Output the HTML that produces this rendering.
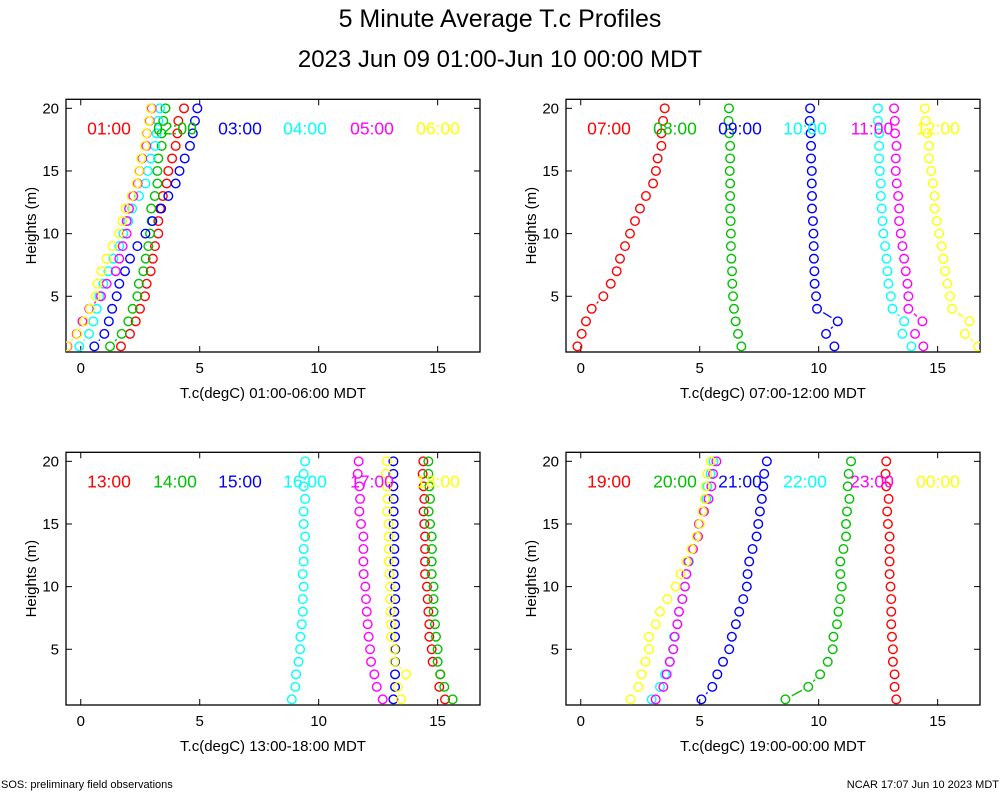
<!DOCTYPE html>
<html><head><meta charset="utf-8"><style>
body{margin:0;background:#fff}
svg{display:block;font-family:"Liberation Sans",sans-serif}
</style></head><body>
<svg id="chart" width="1000" height="800" viewBox="0 0 1000 800" xmlns="http://www.w3.org/2000/svg">
<text x="500" y="27" font-size="25" text-anchor="middle">5 Minute Average T.c Profiles</text>
<text x="500" y="67" font-size="24" text-anchor="middle">2023 Jun 09 01:00-Jun 10 00:00 MDT</text>
<text x="1" y="788" font-size="11">SOS: preliminary field observations</text>
<text x="999" y="788" font-size="11" text-anchor="end">NCAR 17:07 Jun 10 2023 MDT</text>
</svg>
<script>
const heights=[1,2,3,4,5,6,7,8,9,10,11,12,13,14,15,16,17,18,19,20];
const xTicks=[0,5,10,15];
const yTicks=[5,10,15,20];
const colors=["#ff0000","#00c000","#0000ff","#00ffff","#ff00ff","#ffff00"];
const p1Labels=["01:00","02:00","03:00","04:00","05:00","06:00"];
const p2Labels=["07:00","08:00","09:00","10:00","11:00","12:00"];
const p3Labels=["13:00","14:00","15:00","16:00","17:00","18:00"];
const p4Labels=["19:00","20:00","21:00","22:00","23:00","00:00"];
const p1Red=[1.69,2.07,2.31,2.49,2.70,2.77,2.94,3.03,3.12,3.26,3.26,3.33,3.45,3.61,3.68,3.84,3.99,4.06,4.10,4.34];
const p1Green=[1.23,1.72,2.00,2.18,2.38,2.44,2.63,2.73,2.84,2.91,2.98,2.96,3.11,3.22,3.22,3.26,3.40,3.40,3.47,3.56];
const p1Blue=[0.57,0.99,1.18,1.32,1.51,1.62,1.86,2.07,2.38,2.72,3.01,3.38,3.68,3.99,4.15,4.37,4.59,4.71,4.80,4.90];
const p1Cyan=[-0.06,0.35,0.53,0.67,0.78,0.95,1.16,1.37,1.62,1.79,2.00,2.16,2.45,2.72,2.82,2.94,3.12,3.19,3.26,3.33];
const p1Magenta=[-0.56,-0.17,0.07,0.36,0.85,1.09,1.47,1.62,1.76,1.93,1.93,2.03,2.21,2.39,2.46,2.58,2.75,2.77,2.89,2.98];
const p1Yellow=[-0.59,-0.14,0.14,0.39,0.63,0.70,0.87,1.08,1.33,1.61,1.75,1.89,2.14,2.35,2.44,2.54,2.70,2.75,2.86,2.94];
const p2Red=[-0.14,0.04,0.22,0.46,0.95,1.26,1.51,1.65,1.86,2.07,2.28,2.49,2.74,3.04,3.16,3.23,3.39,3.39,3.46,3.53];
const p2Green=[6.75,6.61,6.51,6.44,6.40,6.37,6.36,6.33,6.31,6.31,6.30,6.28,6.28,6.28,6.26,6.28,6.28,6.24,6.21,6.23];
const p2Blue=[10.66,10.31,10.80,9.93,9.89,9.83,9.82,9.80,9.79,9.78,9.76,9.72,9.72,9.71,9.71,9.68,9.68,9.66,9.62,9.64];
const p2Cyan=[13.9,13.52,13.59,13.1,13.03,12.93,12.89,12.85,12.79,12.72,12.68,12.65,12.61,12.61,12.57,12.54,12.54,12.54,12.49,12.49];
const p2Magenta=[14.4,14.05,14.36,13.77,13.77,13.73,13.66,13.59,13.52,13.45,13.38,13.38,13.34,13.28,13.24,13.24,13.27,13.21,13.2,13.17];
const p2Yellow=[16.7,16.15,16.34,15.61,15.52,15.41,15.31,15.24,15.17,15.06,14.96,14.87,14.87,14.8,14.73,14.64,14.64,14.57,14.5,14.46];
const p3Red=[15.31,15.07,15.11,14.79,14.75,14.65,14.65,14.61,14.58,14.55,14.47,14.47,14.47,14.47,14.44,14.41,14.44,14.41,14.37,14.4];
const p3Green=[15.63,15.28,15.11,15.0,15.0,14.93,14.89,14.83,14.83,14.83,14.75,14.75,14.76,14.75,14.68,14.62,14.68,14.65,14.61,14.61];
const p3Blue=[13.14,13.21,13.21,13.21,13.22,13.21,13.21,13.18,13.22,13.22,13.15,13.18,13.18,13.18,13.15,13.15,13.15,13.14,13.14,13.14];
const p3Cyan=[8.87,9.02,9.05,9.15,9.22,9.23,9.29,9.33,9.33,9.37,9.33,9.37,9.37,9.43,9.37,9.37,9.43,9.37,9.37,9.43];
const p3Magenta=[12.69,12.44,12.34,12.2,12.16,12.1,12.06,12.02,11.99,11.96,11.89,11.88,11.88,11.88,11.78,11.71,11.74,11.71,11.64,11.68];
const p3Yellow=[13.46,13.32,13.67,13.18,13.18,13.04,13.04,13.01,13.0,13.0,12.97,12.94,12.94,12.94,12.93,12.87,12.9,12.87,12.83,12.86];
const p4Red=[13.26,13.19,13.19,13.12,13.12,13.08,13.05,13.05,13.05,13.02,12.98,12.98,12.98,12.98,12.91,12.88,12.94,12.84,12.81,12.84];
const p4Green=[8.6,9.56,10.06,10.38,10.59,10.62,10.77,10.83,10.9,10.97,10.91,10.91,11.04,11.15,11.15,11.19,11.29,11.22,11.26,11.36];
const p4Blue=[5.07,5.53,5.74,5.98,6.24,6.35,6.52,6.66,6.83,6.98,7.01,7.08,7.22,7.39,7.46,7.53,7.61,7.67,7.71,7.82];
const p4Cyan=[2.98,3.33,3.54,3.75,3.88,3.92,4.06,4.13,4.27,4.38,4.44,4.55,4.69,4.93,4.97,5.14,5.28,5.32,5.46,5.58];
const p4Magenta=[3.15,3.47,3.61,3.74,3.89,3.95,4.06,4.13,4.27,4.38,4.44,4.52,4.72,4.93,4.97,5.18,5.37,5.49,5.56,5.70];
const p4Yellow=[2.09,2.42,2.56,2.72,2.87,2.87,3.15,3.33,3.64,3.99,4.2,4.44,4.66,4.87,5.01,5.11,5.22,5.25,5.32,5.46];

const NS="http://www.w3.org/2000/svg";
const svg=document.getElementById('chart');
function mk(tag,attrs,parent){const e=document.createElementNS(NS,tag);for(const k in attrs)e.setAttribute(k,attrs[k]);(parent||svg).appendChild(e);return e;}
const XMIN=-0.62,XMAX=16.78,PW=414;
const panels=[
 {left:66,top:99.3,bottom:352,labels:p1Labels,series:[p1Red,p1Green,p1Blue,p1Cyan,p1Magenta,p1Yellow],title:"T.c(degC) 01:00-06:00 MDT"},
 {left:566,top:99.3,bottom:352,labels:p2Labels,series:[p2Red,p2Green,p2Blue,p2Cyan,p2Magenta,p2Yellow],title:"T.c(degC) 07:00-12:00 MDT"},
 {left:66,top:452.3,bottom:705,labels:p3Labels,series:[p3Red,p3Green,p3Blue,p3Cyan,p3Magenta,p3Yellow],title:"T.c(degC) 13:00-18:00 MDT"},
 {left:566,top:452.3,bottom:705,labels:p4Labels,series:[p4Red,p4Green,p4Blue,p4Cyan,p4Magenta,p4Yellow],title:"T.c(degC) 19:00-00:00 MDT"}
];
const labelOffsets=[43,109,174,239,306,372];
panels.forEach((p,pi)=>{
 const g=mk('g',{});
 
 
 const YMAX=20.72;
 const xs=v=>p.left+(v-XMIN)/(XMAX-XMIN)*PW;
 const ys=h=>p.top+(YMAX-h)*12.53;
 const clipId='clip'+pi;
 const cp=mk('clipPath',{id:clipId},g);
 mk('rect',{x:p.left,y:p.top,width:PW,height:p.bottom-p.top},cp);
 xTicks.forEach(t=>{
  const x=xs(t);
  const l1=mk('line',{x1:x,y1:p.bottom,x2:x,y2:p.bottom-6,stroke:'#000'},g);
  
  
  mk('line',{x1:x,y1:p.top,x2:x,y2:p.top+6,stroke:'#000'},g);
  const tl=mk('text',{x:x,y:p.bottom+21,'font-size':15,'text-anchor':'middle'},g);
  tl.textContent=t;
  
  
 });
 yTicks.forEach(t=>{
  const y=ys(t);
  const l1=mk('line',{x1:p.left,y1:y,x2:p.left+6,y2:y,stroke:'#000'},g);
  
  
  mk('line',{x1:p.left+PW,y1:y,x2:p.left+PW-6,y2:y,stroke:'#000'},g);
  const tl=mk('text',{x:p.left-7,y:y+5,'font-size':15,'text-anchor':'end'},g);
  tl.textContent=t;
  
  
 });
 const fr=mk('rect',{x:p.left,y:p.top,width:PW,height:p.bottom-p.top,fill:'none',stroke:'#000','stroke-width':1.3},g);
 
 
 const xt=mk('text',{x:p.left+PW/2,y:p.bottom+46,'font-size':15,'text-anchor':'middle'},g);
 xt.textContent=p.title;
 
 
 const cy=(p.top+p.bottom)/2;
 const yt=mk('text',{x:p.left-30,y:cy,'font-size':15,'text-anchor':'middle',transform:`rotate(-90 ${p.left-30} ${cy})`},g);
 yt.textContent='Heights (m)';
 
 
 const dg=mk('g',{'clip-path':`url(#${clipId})`},g);
 p.series.forEach((vals,si)=>{
  const sg=mk('g',{},dg);
  
  
  const R=4.3,gap=3;
  for(let i=0;i<vals.length-1;i++){
   const x1=xs(vals[i]),y1=ys(heights[i]),x2=xs(vals[i+1]),y2=ys(heights[i+1]);
   const d=Math.hypot(x2-x1,y2-y1), c=R+gap;
   if(d>2*c+1){
    const ux=(x2-x1)/d,uy=(y2-y1)/d;
    const seg=mk('line',{x1:x1+ux*c,y1:y1+uy*c,x2:x2-ux*c,y2:y2-uy*c,stroke:colors[si],'stroke-width':1.3},sg);
    
    
   }
  }
  vals.forEach((v,i)=>{
   const c=mk('circle',{cx:xs(v),cy:ys(heights[i]),r:R,fill:'none',stroke:colors[si],'stroke-width':1.4},sg);
   
   
  });
 });
 p.labels.forEach((lab,si)=>{
  const t=mk('text',{x:p.left+labelOffsets[si],y:p.top+35,'font-size':17.5,'text-anchor':'middle',fill:colors[si]},g);
  t.textContent=lab;
  
  
 });
});
</script>
</body></html>
